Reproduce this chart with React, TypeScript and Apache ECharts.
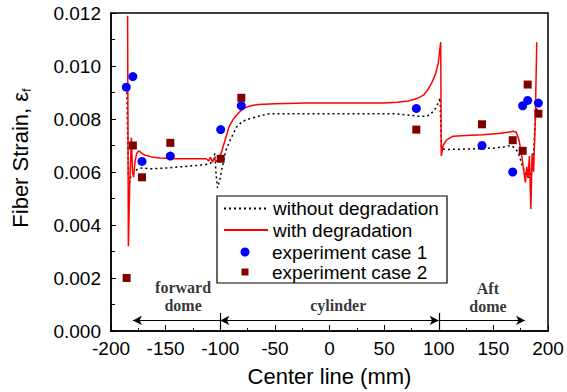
import React, { useEffect, useRef } from 'react';
import * as echarts from 'echarts';

// ---- data ----
const withoutDegradation: [number, number][] = [
  [-185.5, 0.0092], [-184.8, 0.0075], [-184.0, 0.0058], [-183.0, 0.0056], [-181.5, 0.0059],
  [-179, 0.006], [-176, 0.0061], [-172, 0.00615], [-164, 0.00612], [-150, 0.00615],
  [-135, 0.0062], [-118, 0.00626], [-110, 0.0063], [-106.5, 0.0064], [-105, 0.0067],
  [-103.8, 0.0059], [-102.5, 0.0054], [-100.5, 0.0057], [-98, 0.0062], [-95, 0.0068],
  [-91, 0.0072], [-85, 0.0077], [-80, 0.0079], [-74, 0.008], [-65, 0.0081],
  [-55, 0.0082], [0, 0.0082], [60, 0.0082], [72, 0.00815], [82, 0.0081],
  [89, 0.0081], [93, 0.0082], [97, 0.0084], [99.5, 0.0086], [101.2, 0.0088],
  [102.5, 0.0069], [106, 0.00685], [130, 0.00687], [150, 0.0069], [160, 0.00695],
  [166, 0.007], [170, 0.0069], [173, 0.0067], [176, 0.0063], [178.5, 0.006],
  [181, 0.0058], [183.5, 0.0058], [185.3, 0.0062], [186.8, 0.0067], [188.5, 0.008],
  [189.7, 0.0084],
];

const withDegradation: [number, number][] = [
  [-184.8, 0.0119], [-184.1, 0.0032], [-182.8, 0.0056], [-181.3, 0.0073], [-180.3, 0.006],
  [-179.3, 0.0058], [-178.0, 0.0064], [-176.5, 0.0067], [-174.5, 0.0068], [-170, 0.00665],
  [-163, 0.00657], [-155, 0.00653], [-140, 0.0065], [-125, 0.0065], [-113, 0.0065],
  [-110.5, 0.00642], [-109, 0.00655], [-107, 0.00638], [-105.5, 0.0065], [-103.5, 0.0064],
  [-101, 0.0065], [-98.5, 0.0068], [-95.6, 0.0072], [-92, 0.0077], [-88, 0.008],
  [-84, 0.0082], [-79, 0.0084], [-72, 0.0085], [-65, 0.00855], [-50, 0.00858],
  [-20, 0.0086], [20, 0.0086], [50, 0.0086], [62, 0.00863], [72, 0.00868],
  [80, 0.00877], [86, 0.0089], [90, 0.0091], [94, 0.0094], [97, 0.0097],
  [99.5, 0.0101], [101.8, 0.0109], [102.3, 0.0066], [104, 0.007], [107, 0.0072],
  [113, 0.00735], [125, 0.00738], [140, 0.00741], [155, 0.00745], [163, 0.0075],
  [168, 0.00754], [171, 0.0075], [173.5, 0.0072], [176, 0.0066], [178, 0.006],
  [179.3, 0.0056], [180.5, 0.0062], [181.7, 0.0058], [183, 0.0066], [184.3, 0.0046],
  [185.5, 0.0067], [186.8, 0.006], [188.3, 0.0079], [189.7, 0.0109],
];

const experimentCase1: [number, number][] = [
  [-186, 0.0092], [-180, 0.0096], [-171.6, 0.0064], [-145.7, 0.0066], [-99.6, 0.0076],
  [-80.7, 0.0085], [79.5, 0.0084], [139.6, 0.007], [167.7, 0.006], [176.8, 0.0085],
  [181.4, 0.0087], [191.2, 0.0086],
];

const experimentCase2: [number, number][] = [
  [-185.7, 0.002], [-180, 0.007], [-171.6, 0.0058], [-145.7, 0.0071], [-99.6, 0.0065],
  [-80.7, 0.0088], [79.5, 0.0076], [139.6, 0.0078], [167.7, 0.0072], [176.8, 0.0068],
  [181.4, 0.0093], [191.2, 0.0082],
];

const seriesNames = ['without degradation', 'with degradation', 'experiment case 1', 'experiment case 2'];
const regionNames = ['forward\ndome', 'cylinder', 'Aft\ndome'];
const regionBounds = [-180, -100, 100, 179];

const FONT = '"Liberation Sans", Arial, Helvetica, sans-serif';
const SERIF = '"Liberation Serif", "Times New Roman", serif';
const SQUARE = 'path://M0,0L10,0L10,10L0,10Z';

export default function App() {
  const ref = useRef<HTMLDivElement>(null);
  useEffect(() => {
    const chart = echarts.init(ref.current!, null, { renderer: 'svg' });

    const arrowY = 0.0004;
    const dividerTop = 0.00068;
    const labelAnchors = [
      { x: -134, y: 0.00131 },
      { x: 8, y: 0.00098 },
      { x: 145, y: 0.00128 },
    ];

    const legendBase = {
      orient: 'vertical',
      itemWidth: 44,
      padding: 0,
      selectedMode: false,
      textStyle: { fontSize: 19, color: '#000', fontFamily: FONT },
    };
    const hiddenSymbol = { color: 'rgba(0,0,0,0)', borderColor: 'rgba(0,0,0,0)', borderWidth: 0, opacity: 0 };

    const option: any = {
      animation: false,
      backgroundColor: '#fff',
      grid: {
        left: 111, right: 19, top: 13, bottom: 60,
        show: true, borderColor: '#000', borderWidth: 1.5, backgroundColor: 'transparent',
      },
      xAxis: {
        type: 'value', min: -200, max: 200, interval: 50,
        axisLine: { show: true, onZero: false, lineStyle: { color: '#000', width: 1.5 } },
        axisTick: { show: true, inside: true, length: 6, lineStyle: { color: '#000', width: 1 } },
        minorTick: { show: true, splitNumber: 2, length: 3, lineStyle: { color: '#000', width: 1 } },
        splitLine: { show: false },
        axisLabel: { fontSize: 19, color: '#000', fontFamily: FONT, margin: 8 },
        name: 'Center line (mm)', nameLocation: 'middle', nameGap: 34,
        nameTextStyle: { fontSize: 22, color: '#000', fontFamily: FONT },
      },
      yAxis: {
        type: 'value', min: 0, max: 0.012, interval: 0.002,
        axisLine: { show: true, onZero: false, lineStyle: { color: '#000', width: 1.5 } },
        axisTick: { show: true, inside: true, length: 5, lineStyle: { color: '#000', width: 1 } },
        minorTick: { show: true, splitNumber: 2, length: 4, lineStyle: { color: '#000', width: 1 } },
        splitLine: { show: false },
        axisLabel: { fontSize: 19, color: '#000', fontFamily: FONT, margin: 10, formatter: (v: number) => v.toFixed(3) },
        name: '{a|Fiber Strain, ε}{s|f}', nameLocation: 'middle', nameGap: 78,
        nameTextStyle: {
          padding: [0, 0, 0, 28],
          rich: {
            a: { fontSize: 22, color: '#000', fontFamily: FONT },
            s: { fontSize: 13, color: '#000', fontFamily: FONT, padding: [12, 0, 0, 0] },
          },
        },
      },
      legend: [
        { ...legendBase, left: 223, top: 199, itemHeight: 6, itemStyle: hiddenSymbol, data: [seriesNames[0]] },
        { ...legendBase, left: 223, top: 220.5, itemHeight: 6, itemStyle: hiddenSymbol, data: [seriesNames[1]] },
        { ...legendBase, left: 240.5, top: 242.5, itemHeight: 9, data: [seriesNames[2]] },
        { ...legendBase, left: 241.5, top: 262.5, itemHeight: 7, data: [{ name: seriesNames[3], icon: SQUARE }] },
      ],
      graphic: [
        { type: 'rect', shape: { x: 217, y: 196, width: 230, height: 87 }, style: { fill: '#fff', stroke: '#000', lineWidth: 1.2 }, z: 0, zlevel: 0, silent: true },
      ],
      series: [
        {
          name: seriesNames[0], type: 'line', data: withoutDegradation, symbol: 'none', showSymbol: false,
          lineStyle: { color: '#000', width: 1.5, type: [2, 3] }, itemStyle: { color: '#000' }, z: 2, silent: true,
        },
        {
          name: seriesNames[1], type: 'line', data: withDegradation, symbol: 'none', showSymbol: false,
          lineStyle: { color: '#ff0000', width: 1.5 }, itemStyle: { color: '#ff0000' }, z: 3, silent: true,
        },
        {
          name: seriesNames[2], type: 'scatter', data: experimentCase1, symbol: 'circle', symbolSize: 9,
          itemStyle: { color: '#0000ff', opacity: 1 }, z: 4, silent: true,
        },
        {
          name: seriesNames[3], type: 'scatter', data: experimentCase2, symbol: 'rect', symbolSize: 8,
          itemStyle: { color: '#800000', opacity: 1 }, z: 5, silent: true,
        },
        {
          name: 'regions', type: 'scatter', symbolSize: 0, silent: true, z: 6,
          data: regionNames.map((t, i) => ({ value: [labelAnchors[i].x, labelAnchors[i].y], label: { formatter: t } })),
          label: {
            show: true, position: 'inside', color: '#000', fontFamily: SERIF, fontWeight: 'bold',
            fontSize: 16, lineHeight: 18, align: 'center', verticalAlign: 'middle',
          },
          markLine: {
            silent: true, symbolSize: [7, 9], label: { show: false },
            lineStyle: { color: '#000', width: 1.2, type: 'solid' },
            emphasis: { disabled: true },
            data: [
              [{ coord: [regionBounds[0], arrowY], symbol: 'arrow' }, { coord: [regionBounds[1], arrowY], symbol: 'none' }],
              [{ coord: [regionBounds[1], arrowY], symbol: 'arrow' }, { coord: [regionBounds[2], arrowY], symbol: 'arrow' }],
              [{ coord: [regionBounds[2], arrowY], symbol: 'none' }, { coord: [regionBounds[3], arrowY], symbol: 'arrow' }],
              [{ coord: [regionBounds[1], 0], symbol: 'none' }, { coord: [regionBounds[1], dividerTop], symbol: 'none' }],
              [{ coord: [regionBounds[2], 0], symbol: 'none' }, { coord: [regionBounds[2], dividerTop], symbol: 'none' }],
            ],
          },
        },
      ],
    };

    chart.setOption(option);
    return () => chart.dispose();
  }, []);

  return (
    <div
      ref={ref}
      style={{ position: 'fixed', left: 0, top: 0, width: 567, height: 392, background: '#fff' }}
    />
  );
}
